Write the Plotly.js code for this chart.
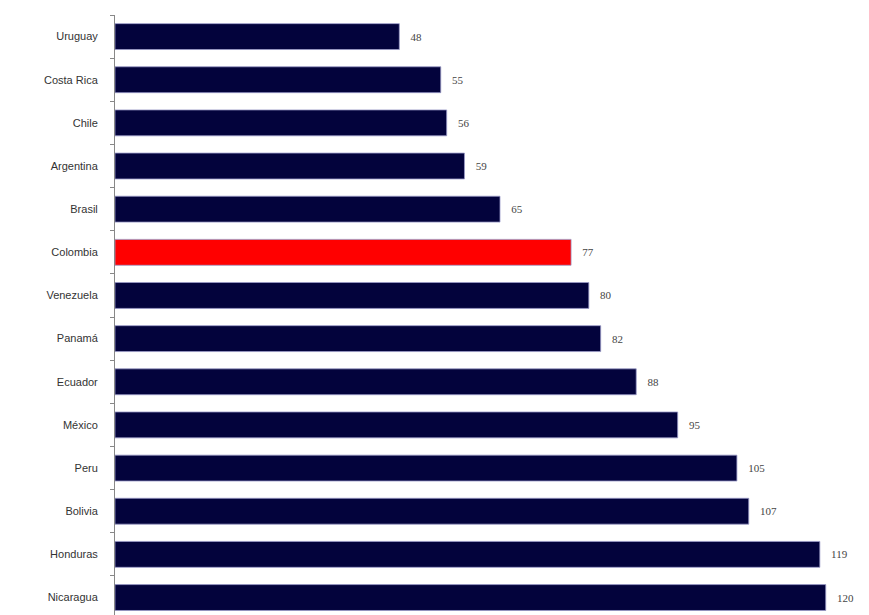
<!DOCTYPE html>
<html><head><meta charset="utf-8">
<script src="https://cdn.plot.ly/plotly-3.0.1.min.js"></script>
<style>body{margin:0;background:#fff}</style>
</head><body>
<div id="chart" style="width:869px;height:615px"></div>
<script>
const countries = ["Uruguay","Costa Rica","Chile","Argentina","Brasil","Colombia","Venezuela","Panamá","Ecuador","México","Peru","Bolivia","Honduras","Nicaragua"];
const values = [48,55,56,59,65,77,80,82,88,95,105,107,119,120];
const highlight = "Colombia";
const colors = countries.map(c => c === highlight ? "#ff0000" : "#03033c");

Plotly.newPlot("chart", [{
  type: "bar",
  orientation: "h",
  y: countries,
  x: values,
  width: 0.6,
  marker: {color: colors, line: {color: "#9a9ac8", width: 0.8}},
  text: values.map(v => "   " + v),
  textposition: "outside",
  cliponaxis: false,
  textfont: {family: "Liberation Serif", size: 11, color: "#444"},
  hoverinfo: "none"
}], {
  width: 869, height: 615,
  margin: {l: 115, r: 0, t: 15, b: 0},
  paper_bgcolor: "#fff", plot_bgcolor: "#fff",
  showlegend: false,
  xaxis: {range: [0, 127.3], visible: false, showgrid: false, zeroline: false},
  yaxis: {
    type: "category",
    range: [13.405, -0.5],
    showline: true, linecolor: "#888", linewidth: 1,
    ticks: "outside", tickson: "boundaries", ticklen: 4, tickcolor: "#888",
    ticklabelstandoff: 14,
    tickfont: {family: "Liberation Sans", size: 11, color: "#333"},
    showgrid: false, zeroline: false
  }
}, {staticPlot: true});
</script>
</body></html>
